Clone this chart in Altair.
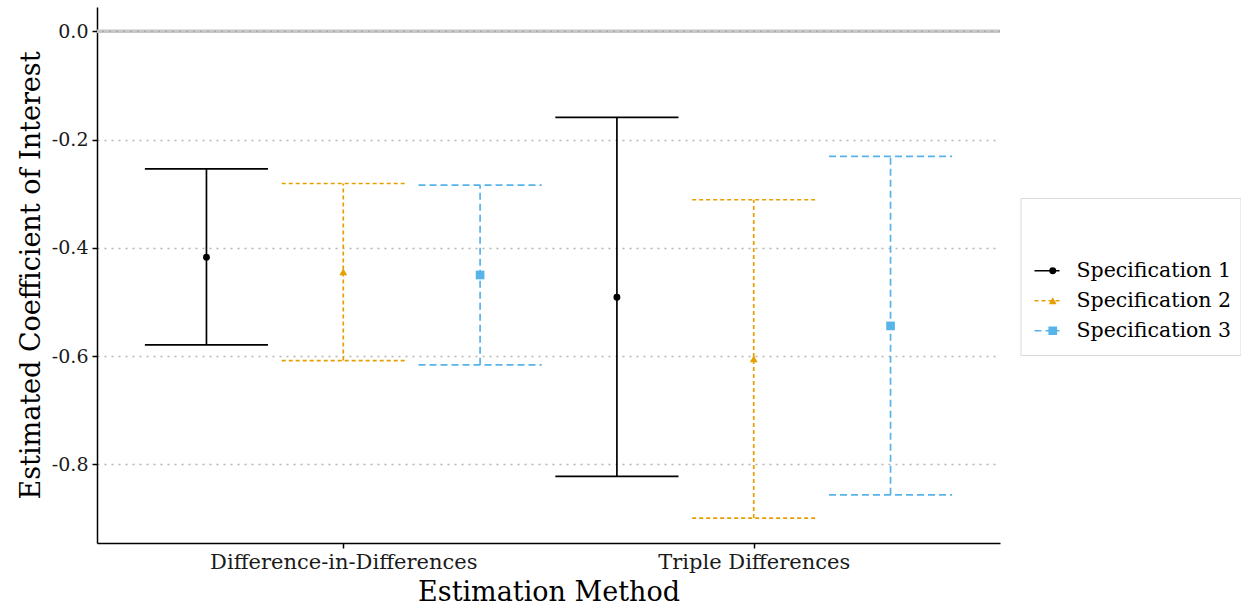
import json
import altair as alt
import pandas as pd

methods = ["Difference-in-Differences", "Triple Differences"]
specs = ["Specification 1", "Specification 2", "Specification 3"]
estimate = [-0.417, -0.444, -0.450, -0.491, -0.605, -0.544]
lower = [-0.579, -0.608, -0.616, -0.822, -0.899, -0.856]
upper = [-0.254, -0.281, -0.284, -0.159, -0.311, -0.231]
y_ticks = [0.0, -0.2, -0.4, -0.6, -0.8]
colors = ["#000000", "#E69F00", "#56B4E9"]
dashes = [[1, 0], [4, 3], [7, 4]]
shapes = ["circle", "triangle-up", "square"]
marker_sizes = [48, 75, 45]

FONT = "DejaVu Serif"
YTITLE = "Estimated Coefficient of Interest"
XTITLE = "Estimation Method"

df = pd.DataFrame({
    "method": [m for m in methods for _ in specs],
    "spec": specs * len(methods),
    "est": estimate,
    "lo": lower,
    "hi": upper,
})
zero_df = pd.DataFrame({"ref": [0.0]})

M = json.dumps(methods)
S = json.dumps(specs)
line_keys = [s + " " for s in specs]

yscale = alt.Scale(domain=[-0.945, 0.045], nice=False, zero=False)
xscale = alt.Scale(domain=[-0.6, 1.6], nice=False, zero=False)

xaxis = alt.Axis(
    values=[0, 1],
    labelExpr=f"{M}[datum.value]",
    title=XTITLE, grid=False,
    domainColor="black", domainWidth=1.5, tickColor="black", tickWidth=1.5, tickSize=5,
    labelFont=FONT, labelFontSize=21, labelColor="#1a1a1a", labelPadding=3, labelLimit=500,
    titleFont=FONT, titleFontSize=27, titleFontWeight="normal", titleColor="black", titlePadding=7,
)
yaxis = alt.Axis(
    values=y_ticks,
    labelExpr="(datum.value < -0.0001 ? '-' : '') + format(abs(datum.value), '.1f')",
    title=YTITLE, grid=True, gridColor="#b5b5b5", gridDash=[2, 5], gridWidth=1.4,
    domainColor="black", domainWidth=1.5, tickColor="black", tickWidth=1.5, tickSize=5,
    labelFont=FONT, labelFontSize=19, labelColor="#1a1a1a", labelPadding=4,
    titleFont=FONT, titleFontSize=27, titleFontWeight="normal", titleColor="black", titlePadding=6,
)

LX, LY = 923.5, 191
common = dict(
    title=" ", titleFontSize=22, titlePadding=27, titleFont=FONT,
    orient="none", legendX=LX, legendY=LY, padding=9,
    labelFont=FONT, labelFontSize=20.5, labelLimit=300,
    clipHeight=29.5, rowPadding=0,
)
line_legend = alt.Legend(
    **common, strokeColor="#d9d9d9", fillColor="white",
    labelColor="black", labelOffset=16, labelExpr="trim(datum.label)",
    symbolType="stroke", symbolSize=625, symbolStrokeWidth=1.6, symbolOffset=4, zindex=1,
)
point_legend = alt.Legend(
    **common, labelExpr="''", labelOffset=0,
    symbolSize=50, symbolOffset=13, symbolStrokeWidth=0, zindex=2,
)

stroke = alt.Stroke("lspec:N", scale=alt.Scale(domain=line_keys, range=colors), legend=line_legend)
dash = alt.StrokeDash("lspec:N", scale=alt.Scale(domain=line_keys, range=dashes), legend=line_legend)
color = alt.Color("spec:N", scale=alt.Scale(domain=specs, range=colors), legend=point_legend)
shape = alt.Shape("spec:N", scale=alt.Scale(domain=specs, range=shapes), legend=point_legend)
size = alt.Size("spec:N", scale=alt.Scale(domain=specs, range=marker_sizes), legend=None)

base = alt.Chart(df).transform_calculate(
    xpos=f"indexof({M}, datum.method) + (indexof({S}, datum.spec) - 1) / 3",
    lspec="datum.spec + ' '",
).transform_calculate(
    xl="datum.xpos - 0.15", xr="datum.xpos + 0.15"
)

zero_line = alt.Chart(zero_df).mark_rule(color="#c6c6c6", strokeWidth=3.5).encode(
    y=alt.Y("ref:Q", scale=yscale, axis=yaxis, title=YTITLE)
)
zero_dots = alt.Chart(zero_df).mark_rule(color="#a8a8a8", strokeWidth=1.4, strokeDash=[2, 5]).encode(
    y=alt.Y("ref:Q", scale=yscale, title=YTITLE)
)

bars = base.mark_rule(strokeWidth=1.7).encode(
    x=alt.X("xpos:Q", scale=xscale, axis=xaxis, title=XTITLE),
    y=alt.Y("lo:Q", scale=yscale, title=YTITLE),
    y2="hi:Q",
    stroke=stroke,
    strokeDash=dash,
)

caps = base.transform_fold(["lo", "hi"], as_=["end", "val"]).mark_rule(strokeWidth=1.7).encode(
    x=alt.X("xl:Q", scale=xscale, title=XTITLE),
    x2="xr:Q",
    y=alt.Y("val:Q", scale=yscale, title=YTITLE),
    stroke=stroke,
    strokeDash=dash,
)

points = base.mark_point(filled=True, opacity=1).encode(
    x=alt.X("xpos:Q", scale=xscale, title=XTITLE),
    y=alt.Y("est:Q", scale=yscale, title=YTITLE),
    color=color,
    shape=shape,
    size=size,
)

chart = alt.layer(zero_line, zero_dots, bars, caps, points).properties(
    width=903, height=536,
    autosize=alt.AutoSizeParams(type="none"),
    padding={"left": 97, "top": 7, "right": 241, "bottom": 66},
    background="white",
).configure_view(stroke=None)

chart.save("out.html", embed_options={"renderer": "svg", "actions": False})
